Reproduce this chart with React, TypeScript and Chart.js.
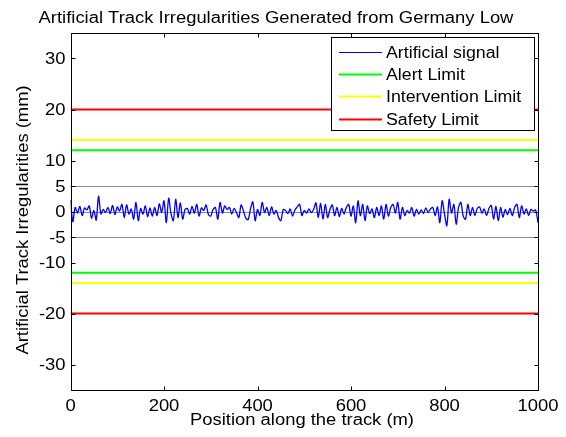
import React, { useEffect, useRef } from "react";
import { Chart, registerables } from "chart.js";

Chart.register(...registerables);

const TITLE = "Artificial Track Irregularities Generated from Germany Low";
const X_LABEL = "Position along the track (m)";
const Y_LABEL = "Artificial Track Irregularities (mm)";

const X_TICKS = [0, 200, 400, 600, 800, 1000];
const Y_TICKS = [-30, -20, -10, -5, 0, 5, 10, 20, 30];
const REF_LINES = [-5, 0, 5];

const X_MIN = 0;
const X_MAX = 1000;
const Y_MIN = -35;
const Y_MAX = 35;

const SIGNAL_STEP = 5; // metres between samples
const SIGNAL = [
  // 0 - 245 m
  2.3, -2.0, 0.8, -0.3, 1.0, -0.8, 0.7, 0.3, 1.1, -1.3,
  0.2, -1.7, 3.0, -0.5, 0.4, -0.2, 0.8, -0.4, 1.2, -0.6,
  0.9, 0.1, 1.4, -1.2, 1.3, -0.5, 0.5, -1.5, 1.8, -1.8,
  0.6, -0.5, 1.1, -1.0, 0.7, -0.9, 0.8, -0.8, 1.5, -0.2,
  2.1, -2.2, 2.6, -0.4, -1.8, 2.4, -1.2, 1.7, -1.5, 0.4,
  // 250 - 495 m
  0.6, -0.5, 1.0, -0.3, 1.4, -0.9, 0.7, 0.2, 1.3, -0.6,
  -0.9, 0.4, 0.8, -1.5, 1.8, -0.3, 1.1, 0.4, 0.8, -0.5,
  0.6, -0.2, -1.2, 1.3, 0.1, -1.3, -1.6, 0.5, 1.9, -1.8,
  0.4, -0.8, 1.8, -0.2, 0.8, -0.8, 0.9, -0.5, 0.2, -1.2,
  -1.8, 0.4, 0.2, -0.4, 0.5, -0.9, 0.3, 0.9, 1.4, -0.8,
  // 500 - 745 m
  0.2, -0.3, 0.5, -0.2, 0.4, 1.7, -1.2, 1.6, -1.5, 1.4,
  -1.2, 0.4, 1.3, -0.8, 0.8, -1.0, 0.6, -0.5, 0.8, 1.4,
  -0.9, 1.1, -2.2, 2.1, -0.8, 1.4, -1.8, 1.1, -0.4, 0.5,
  -1.2, 0.8, -0.8, 1.1, -1.5, 1.4, -0.9, 0.8, 1.4, -0.3,
  1.8, -1.5, 0.8, -0.8, 0.2, -0.3, 0.8, -0.9, 0.4, -0.5,
  // 750 - 1000 m
  0.3, -0.4, 0.7, -0.2, 0.5, 0.8, -0.8, 0.9, -2.2, 2.1,
  -0.5, -2.8, 2.4, -0.3, 1.4, -2.5, 0.8, 1.8, -0.9, -1.5,
  1.4, -0.8, 0.8, -0.8, 0.6, 0.9, -0.3, 0.5, -0.8, 0.6,
  1.2, -1.5, 1.0, -1.8, 0.8, -1.1, 0.4, -0.6, 0.6, -0.8,
  0.8, 1.4, -1.2, 1.1, -0.5, 0.5, -0.8, 0.4, 0.1, 0.3,
  -2.2,
];

const ALERT_LIMIT = 12;
const INTERVENTION_LIMIT = 14;
const SAFETY_LIMIT = 20;

const FONT = "'Liberation Sans', Arial, Helvetica, sans-serif";
const STRETCH = 1.15;

function limitPoints(v: number) {
  return [
    { x: X_MIN, y: v },
    { x: X_MAX, y: v },
    { x: X_MAX, y: null },
    { x: X_MIN, y: -v },
    { x: X_MAX, y: -v },
  ];
}

function stretchedText(
  ctx: CanvasRenderingContext2D,
  text: string,
  x: number,
  y: number,
  align: CanvasTextAlign,
  sx: number,
  rotate = 0
) {
  ctx.save();
  ctx.translate(x, y);
  if (rotate) ctx.rotate(rotate);
  ctx.scale(sx, 1);
  ctx.textAlign = align;
  ctx.fillText(text, 0, 0);
  ctx.restore();
}

const matlabPlugin = {
  id: "matlabDecor",
  beforeDraw(chart: any) {
    const ctx = chart.ctx;
    ctx.save();
    ctx.fillStyle = "#ffffff";
    ctx.fillRect(0, 0, chart.width, chart.height);
    ctx.restore();
  },
  beforeDatasetsDraw(chart: any) {
    const ctx = chart.ctx;
    const { left, right } = chart.chartArea;
    const ys = chart.scales.y;
    ctx.save();
    ctx.strokeStyle = "#8c8c8c";
    ctx.lineWidth = 1;
    for (const v of REF_LINES) {
      const py = Math.round(ys.getPixelForValue(v)) + 0.5;
      ctx.beginPath();
      ctx.moveTo(left, py);
      ctx.lineTo(right, py);
      ctx.stroke();
    }
    ctx.restore();
  },
  afterDraw(chart: any) {
    const ctx = chart.ctx;
    const { left, right, top, bottom } = chart.chartArea;
    const xs = chart.scales.x;
    const ys = chart.scales.y;
    ctx.save();
    // box
    ctx.strokeStyle = "#000000";
    ctx.lineWidth = 1;
    const L = Math.round(left) + 0.5;
    const R = Math.round(right) + 0.5;
    const T = Math.round(top) + 0.5;
    const B = Math.round(bottom) + 0.5;
    ctx.strokeRect(L, T, R - L, B - T);
    // inward ticks
    const tl = 4;
    ctx.beginPath();
    for (const v of X_TICKS) {
      const px = Math.round(xs.getPixelForValue(v)) + 0.5;
      ctx.moveTo(px, B);
      ctx.lineTo(px, B - tl);
      ctx.moveTo(px, T);
      ctx.lineTo(px, T + tl);
    }
    for (const v of Y_TICKS) {
      const py = Math.round(ys.getPixelForValue(v)) + 0.5;
      ctx.moveTo(L, py);
      ctx.lineTo(L + tl, py);
      ctx.moveTo(R, py);
      ctx.lineTo(R - tl, py);
    }
    ctx.stroke();

    ctx.fillStyle = "#000000";
    ctx.font = `16px ${FONT}`;
    ctx.textBaseline = "alphabetic";
    // tick labels
    for (const v of X_TICKS) {
      stretchedText(ctx, String(v), xs.getPixelForValue(v), 410.5, "center", STRETCH);
    }
    for (const v of Y_TICKS) {
      stretchedText(ctx, String(v), 65.5, ys.getPixelForValue(v) + 5.5, "right", STRETCH);
    }

    // legend
    const lgX = 331.5;
    const lgY = 37.5;
    const lgW = 203;
    const lgH = 93;
    ctx.fillStyle = "#ffffff";
    ctx.fillRect(lgX, lgY, lgW, lgH);
    ctx.strokeStyle = "#000000";
    ctx.lineWidth = 1;
    ctx.strokeRect(lgX, lgY, lgW, lgH);
    chart.data.datasets.forEach((ds: any, i: number) => {
      const cy = 52 + i * 22.2;
      ctx.strokeStyle = ds.borderColor;
      ctx.lineWidth = i === 0 ? 1 : ds.borderWidth;
      ctx.beginPath();
      ctx.moveTo(339, Math.round(cy) + 0.5);
      ctx.lineTo(382, Math.round(cy) + 0.5);
      ctx.stroke();
      ctx.fillStyle = "#000000";
      stretchedText(ctx, ds.label, 386, cy + 6, "left", 1.11);
    });

    // title
    ctx.fillStyle = "#000000";
    stretchedText(ctx, TITLE, 276, 22.5, "center", STRETCH);
    // x label
    stretchedText(ctx, X_LABEL, 302, 425, "center", STRETCH);
    // y label
    stretchedText(ctx, Y_LABEL, 28, 220, "center", STRETCH, -Math.PI / 2);
    ctx.restore();
  },
};

export default function App() {
  const canvasRef = useRef<HTMLCanvasElement | null>(null);

  useEffect(() => {
    const canvas = canvasRef.current;
    if (!canvas) return;
    const signalData = SIGNAL.map((v, i) => ({ x: i * SIGNAL_STEP, y: v }));
    const chart = new Chart(canvas, {
      type: "line",
      data: {
        datasets: [
          {
            label: "Artificial signal",
            data: signalData,
            borderColor: "#0000ff",
            borderWidth: 1.3,
            pointRadius: 0,
            tension: 0.3,
          },
          {
            label: "Alert Limit",
            data: limitPoints(ALERT_LIMIT) as any,
            borderColor: "#00ff00",
            borderWidth: 2,
            pointRadius: 0,
            spanGaps: false,
          },
          {
            label: "Intervention Limit",
            data: limitPoints(INTERVENTION_LIMIT) as any,
            borderColor: "#ffff00",
            borderWidth: 2,
            pointRadius: 0,
            spanGaps: false,
          },
          {
            label: "Safety Limit",
            data: limitPoints(SAFETY_LIMIT) as any,
            borderColor: "#ff0000",
            borderWidth: 2,
            pointRadius: 0,
            spanGaps: false,
          },
        ],
      },
      options: {
        animation: false,
        responsive: false,
        maintainAspectRatio: false,
        layout: { padding: { top: 33, right: 28, left: 0, bottom: 0 } },
        plugins: {
          legend: { display: false },
          title: { display: false },
          tooltip: { enabled: false },
        },
        scales: {
          x: {
            type: "linear",
            min: X_MIN,
            max: X_MAX,
            grid: { display: false, drawTicks: false },
            border: { display: false },
            afterBuildTicks: (scale: any) => {
              scale.ticks = X_TICKS.map((v) => ({ value: v }));
            },
            afterFit: (scale: any) => {
              scale.height = 47;
            },
            ticks: { display: false },
          },
          y: {
            type: "linear",
            min: Y_MIN,
            max: Y_MAX,
            grid: { display: false, drawTicks: false },
            border: { display: false },
            afterBuildTicks: (scale: any) => {
              scale.ticks = Y_TICKS.map((v) => ({ value: v }));
            },
            afterFit: (scale: any) => {
              scale.width = 70.5;
            },
            ticks: { display: false },
          },
        },
      },
      plugins: [matlabPlugin],
    });
    return () => chart.destroy();
  }, []);

  return (
    <div style={{ position: "absolute", left: 0, top: 0, width: 566, height: 437 }}>
      <canvas ref={canvasRef} width={566} height={437} />
    </div>
  );
}
